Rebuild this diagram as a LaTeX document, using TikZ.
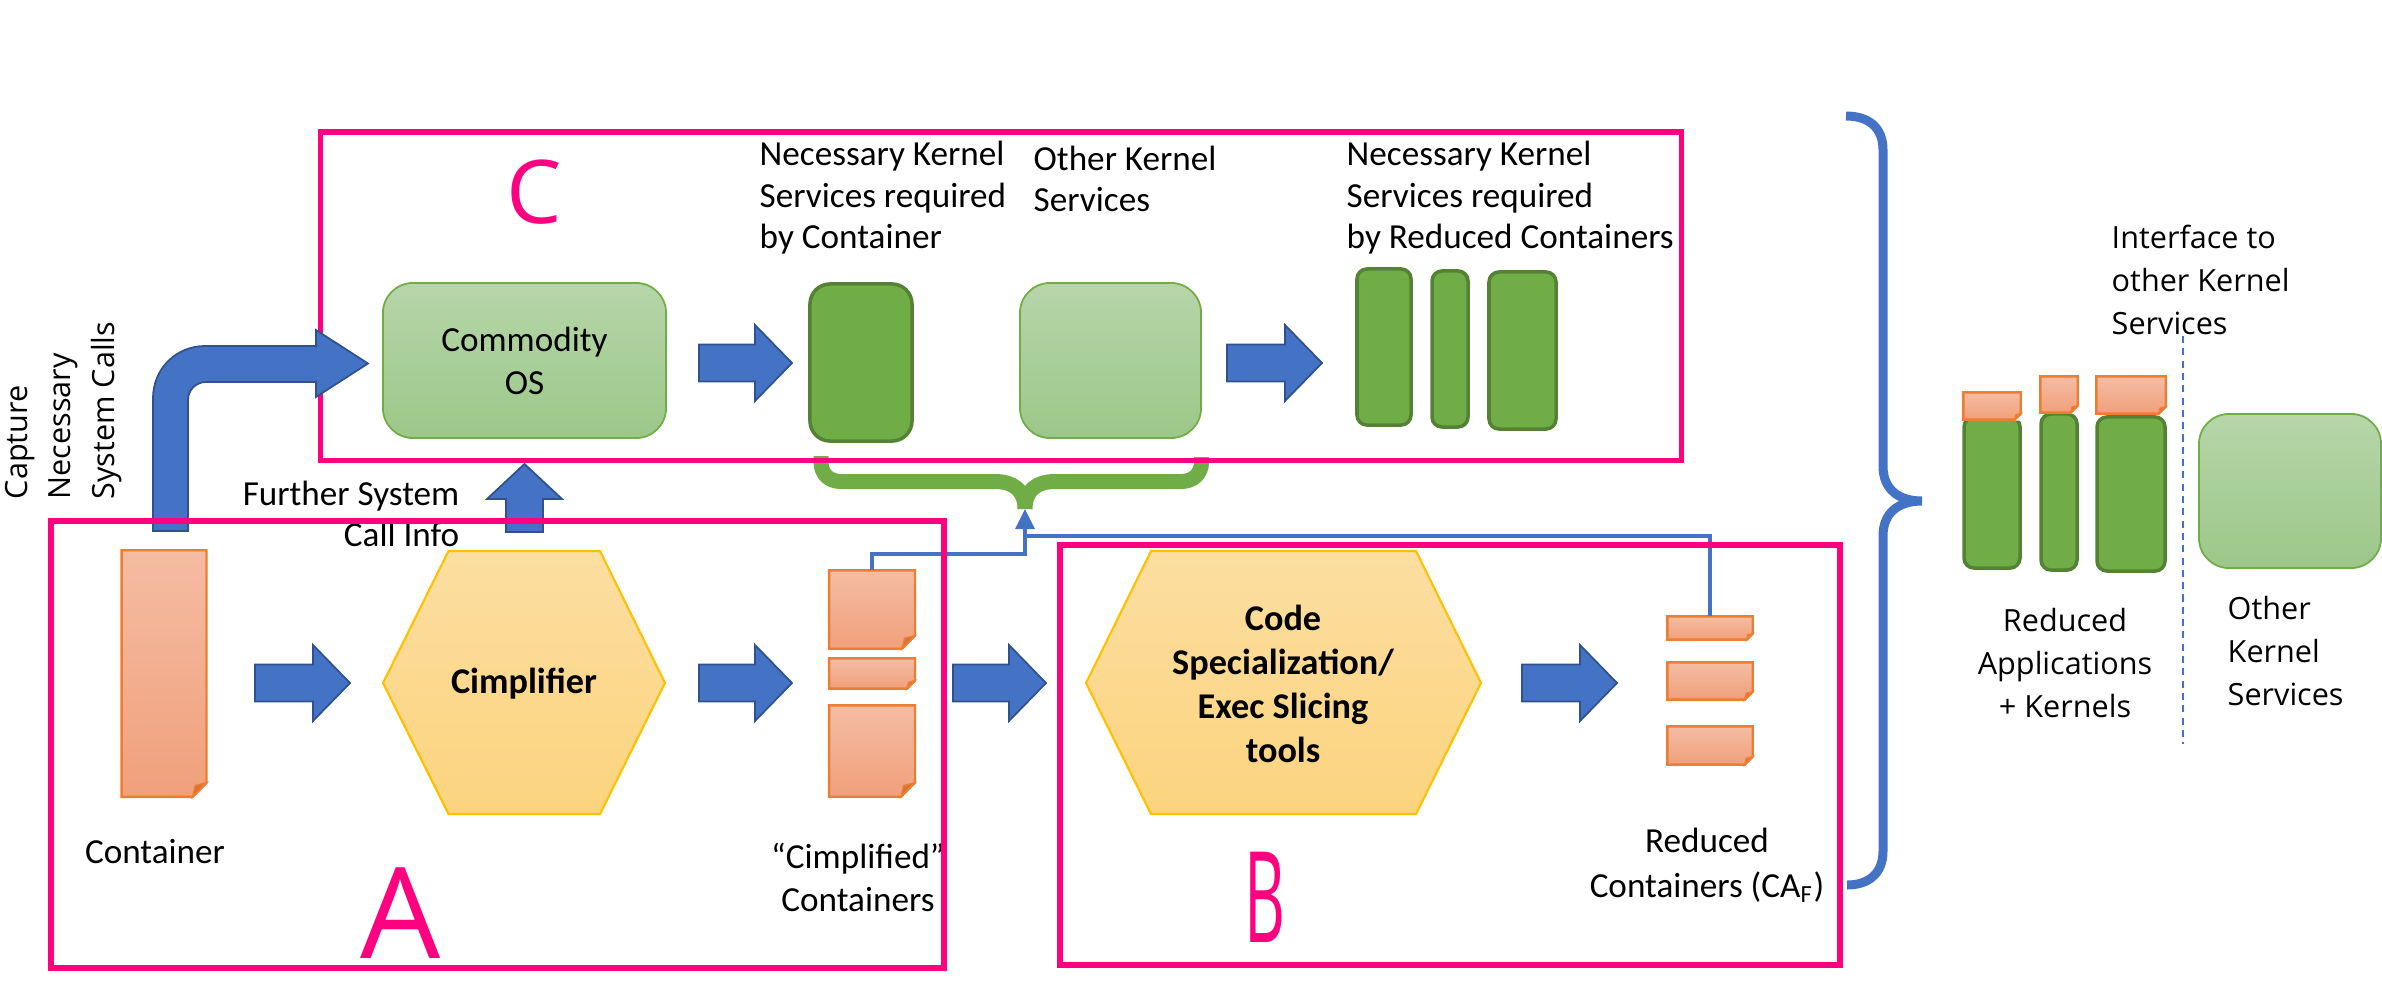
\documentclass[tikz,border=0pt]{standalone}
\usepackage{fontspec}
\setmainfont{Carlito}
\newfontfamily\segoe{Open Sans}
\usetikzlibrary{arrows.meta,calc}

\definecolor{hotpink}{HTML}{FF0080}
\definecolor{arrowblue}{HTML}{4472C4}
\definecolor{arrowedge}{HTML}{2F528F}
\definecolor{kgreen}{HTML}{70AD47}
\definecolor{kgreenedge}{HTML}{548235}
\definecolor{lgtop}{HTML}{B6D6A9}
\definecolor{lgbot}{HTML}{9CC789}
\definecolor{doctop}{HTML}{F4BCA3}
\definecolor{docbot}{HTML}{F1A07B}
\definecolor{docedge}{HTML}{ED7D31}
\definecolor{docfold}{HTML}{D9733A}
\definecolor{hextop}{HTML}{FCDEA1}
\definecolor{hexbot}{HTML}{FCD47E}
\definecolor{hexedge}{HTML}{FFC000}

\tikzset{
  pinkbox/.style={rectangle, draw=hotpink, line width=1.6pt, inner sep=0},
  fatarrow/.style={fill=arrowblue, draw=arrowedge, line width=0.5pt},
  kernel/.style={rectangle, rounded corners=0.1cm, fill=kgreen, draw=kgreenedge, line width=1pt, inner sep=0},
  kernelbox/.style={rectangle, rounded corners=0.3cm, top color=lgtop, bottom color=lgbot, draw=kgreen, line width=0.5pt, inner sep=0},
  doc/.style={rectangle, top color=doctop, bottom color=docbot, inner sep=0},
  hexa/.style={top color=hextop, bottom color=hexbot, draw=hexedge, line width=0.6pt},
  lbl/.style={inner sep=0, align=left, font=\fontsize{10}{11.8}\selectfont},
  clbl/.style={inner sep=0, align=center, font=\fontsize{10}{12.2}\selectfont},
  tool/.style={inner sep=0, align=center, font=\fontsize{10.3}{12.5}\selectfont\bfseries},
  note/.style={inner sep=0, align=left, font=\segoe\fontsize{8.7}{12.3}\selectfont},
  hand/.style={inner sep=0, text=hotpink, font=\segoe\fontsize{36}{36}\selectfont},
  link/.style={draw=arrowblue, line width=1pt},
}

\begin{document}
\begin{tikzpicture}[x=0.01cm, y=-0.01cm]
  \useasboundingbox (0,0) rectangle (2382,1006);

  % kernel services, top row
  \node[kernelbox, minimum width=2.83cm, minimum height=1.55cm, align=center, font=\fontsize{10}{12.2}\selectfont] (os) at (524.5,360.5) {Commodity\\OS};
  \node[kernel, rounded corners=0.2cm, minimum width=1.02cm, minimum height=1.57cm] (ncs) at (861,362.5) {};
  \node[kernelbox, minimum width=1.81cm, minimum height=1.55cm] (oks) at (1110.5,360.5) {};
  \foreach \n/\x/\y/\w/\h in {kb1/1384/347/0.54cm/1.56cm, kb2/1450/349/0.36cm/1.56cm, kb3/1522.5/350.5/0.67cm/1.57cm,
                              rb1/1992/492.5/0.56cm/1.51cm, rb2/2059/492/0.36cm/1.56cm, rb3/2131/494/0.68cm/1.54cm}
    \node[kernel, minimum width=\w, minimum height=\h] (\n) at (\x,\y) {};
  \node[kernelbox, minimum width=1.82cm, minimum height=1.54cm] (roks) at (2290,491) {};

  \node[lbl, anchor=west] (ncslbl) at (759,198) {Necessary Kernel\\Services required\\by Container};
  \node[lbl, anchor=west] (okslbl) at (1033,179) {Other Kernel\\Services};
  \node[lbl, anchor=west] (kblbl) at (1346,198) {Necessary Kernel\\Services required\\by Reduced Containers};

  % green brace
  \coordinate (gtip) at (1025,509);
  \draw[kgreen, line width=0.15cm] (821,456) -- (821,462) .. controls (821,474) and (829,481.5) .. (841,481.5)
    -- (995,481.5) .. controls (1013,481.5) and (1025,490) .. (gtip)
    (gtip) .. controls (1025,490) and (1037,481.5) .. (1055,481.5)
    -- (1181,481.5) .. controls (1193,481.5) and (1201.5,474) .. (1201.5,462) -- (1201.5,457);

  \node[pinkbox, minimum width=13.60cm, minimum height=3.285cm] (boxC) at (1001,296.25) {};
  \node[hand, font=\segoe\fontsize{25}{25}\selectfont] (lc) at (534.5,192) {C};

  % hexagon tools
  \foreach \xl/\xi/\xo/\xr in {383/448.5/600/665, 1086/1151/1416/1481}
    \draw[hexa] (\xl,683) -- (\xi,551) -- (\xo,551) -- (\xr,683) -- (\xo,814) -- (\xi,814) -- cycle;
  \node[tool] (cimp) at (524,684) {Cimplifier};
  \node[tool] (spec) at (1283,684) {Code\\Specialization/\\Exec Slicing\\tools};

  % containers
  \foreach \n/\x/\y/\w/\h in {cont/164/673.5/0.835cm/2.45cm, cs1/872/609.5/0.845cm/0.77cm, cs2/872/673.5/0.845cm/0.29cm,
                              cs3/872/751/0.845cm/0.90cm, rc1/1710/628/0.84cm/0.22cm, rc2/1710/681/0.84cm/0.36cm,
                              rc3/1710/745.5/0.84cm/0.37cm, cap1/1992/406/0.56cm/0.26cm, cap2/2059/394.5/0.36cm/0.35cm,
                              cap3/2131/395/0.68cm/0.36cm}
    \node[doc, minimum width=\w, minimum height=\h] (\n) at (\x,\y) {};
  \foreach \d/\f in {cont/14, cs1/13, cs2/8, cs3/14, rc1/6, rc2/8, rc3/8, cap1/6, cap2/7, cap3/7} {
    \fill[white] ($(\d.south east)+(1,-\f-1)$) -- ($(\d.south east)+(1,1)$) -- ($(\d.south east)+(-\f-1,1)$) -- cycle;
    \draw[docedge, line width=0.7pt] (\d.north west) -- (\d.north east) -- ($(\d.south east)+(0,-\f)$)
      -- ($(\d.south east)+(-\f,0)$) -- (\d.south west) -- cycle;
    \filldraw[fill=docfold, draw=docedge, line width=0.4pt] ($(\d.south east)+(0,-\f)$) -- ($(\d.south east)+(-\f,0)$)
      -- ($(\d.south east)+(-0.8*\f,-0.8*\f)$) -- cycle;
  }

  \node[clbl] (contlbl) at (155,852) {Container};
  \node[clbl] (cslbl) at (858,877.5) {“Cimplified”\\Containers};
  \node[clbl, font=\fontsize{10}{12.8}\selectfont] (rclbl) at (1707,865) {Reduced\\Containers (CA\textsubscript{F})};
  \node[lbl, align=right, anchor=east] (calllbl) at (460,514) {Further System\\Call Info};

  % block arrows
  \foreach \xa/\xb/\y in {255/350/683, 699/792/683, 953/1046/683, 1522/1617/683, 699/792/363, 1227/1322/363}
    \draw[fatarrow] (\xa,\y-18.5) -- (\xb-37,\y-18.5) -- (\xb-37,\y-38) -- (\xb,\y) -- (\xb-37,\y+38)
      -- (\xb-37,\y+18.5) -- (\xa,\y+18.5) -- cycle;
  \draw[fatarrow] (506,532) -- (506,499) -- (487,499) -- (524.5,464) -- (562,499) -- (543,499) -- (543,532) -- cycle;
  \draw[fatarrow] (153,531) -- (153,398) .. controls (153,369) and (176,346) .. (205,346) -- (316,346) -- (316,330)
    -- (368,363.5) -- (316,397) -- (316,382) -- (206,382) .. controls (196,382) and (188,390) .. (188,400) -- (188,531) -- cycle;
  \node[note, rotate=90, anchor=west] (caplbl) at (63.5,500) {Capture\\Necessary\\System Calls};

  % feedback links
  \coordinate (jl) at (1025,554);
  \coordinate (jr) at (1025,536);
  \draw[link, -{Triangle[length=0.2cm, width=0.19cm]}] (cs1.north) |- (jl) -- (gtip);
  \draw[link] (rc1.north) |- (jr);

  \node[pinkbox, minimum width=8.93cm, minimum height=4.47cm] (boxA) at (497.5,744.5) {};
  \node[pinkbox, minimum width=7.80cm, minimum height=4.20cm] (boxB) at (1450,755) {};
  \node[hand] (la) at (401,913) {A};
  \node[hand] (lb) at (1265,897) {\scalebox{0.5}[1]{B}};

  % result
  \draw[arrowblue, line width=0.09cm] (1846,116) .. controls (1868,116) and (1883,127) .. (1883,150) -- (1883,466)
    .. controls (1883,489) and (1898,501) .. (1922,501)
    (1922,501) .. controls (1898,501) and (1883,513) .. (1883,536) -- (1883,851)
    .. controls (1883,874) and (1868,885) .. (1847,885);
  \coordinate (dtop) at (2183,336);
  \coordinate (dbot) at (2183,744);
  \draw[arrowblue, line width=0.6pt, dash pattern=on 2pt off 1.5pt] (dtop) -- (dbot);
  \node[note, anchor=west] (iflbl) at (2111,280) {Interface to\\other Kernel\\Services};
  \node[note, align=center] (rblbl) at (2065,663) {Reduced\\Applications\\+ Kernels};
  \node[note, anchor=west] (rokslbl) at (2227,651) {Other\\Kernel\\Services};
\end{tikzpicture}
\end{document}
